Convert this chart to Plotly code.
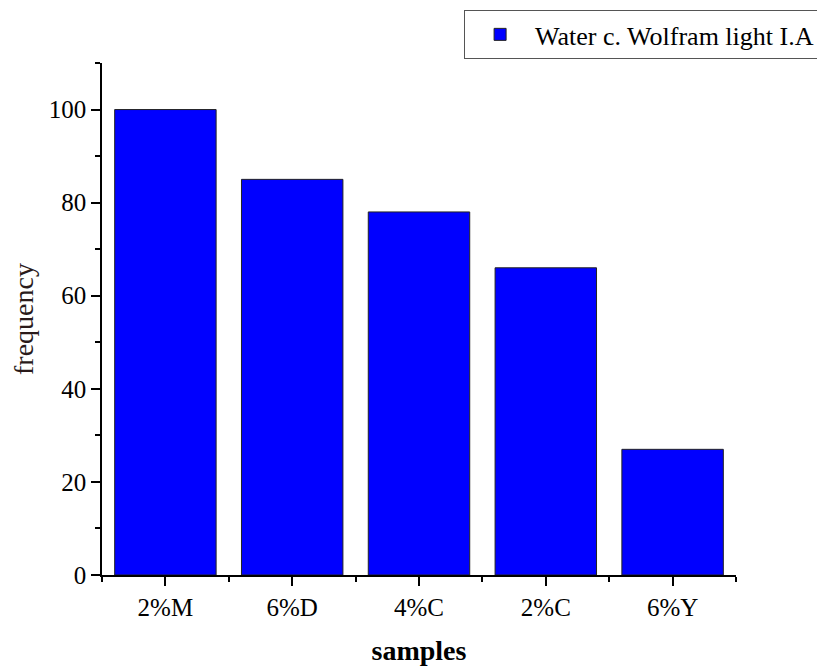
import plotly.graph_objs as go

samples = ['2%M', '6%D', '4%C', '2%C', '6%Y']
frequency = [100, 85, 78, 66, 27]
series_name = 'Water c. Wolfram light I.A'

serif = 'Liberation Serif, Times New Roman, serif'

fig = go.Figure()
fig.add_trace(go.Bar(x=list(range(len(samples))),
                     y=frequency,
                     name=series_name,
                     showlegend=True,
                     marker_color='#0000ff',
                     marker_line_color='#222222',
                     marker_line_width=1))

# the page body adds an 8px offset, so the figure is 8px smaller and margins shifted
fig.update_layout(width=817, height=658,
                  margin=dict(l=94, r=89, t=55, b=91, autoexpand=False),
                  paper_bgcolor='white',
                  plot_bgcolor='white',
                  bargap=0.2,
                  font=dict(family=serif, size=25, color='black'),
                  legend=dict(xref='container', yref='container',
                              x=0.994, y=0.997, xanchor='right', yanchor='top',
                              bordercolor='#555555', borderwidth=1,
                              font=dict(size=26), itemwidth=60,
                              bgcolor='white'))

fig.update_xaxes(range=[-0.5, 4.5],
                 tickmode='array',
                 tickvals=list(range(len(samples))),
                 ticktext=samples,
                 ticks='outside', ticklen=9, tickwidth=1.5, tickcolor='black',
                 minor=dict(tickmode='linear', tick0=0.5, dtick=1, ticks='outside',
                            ticklen=5, tickwidth=1.5, tickcolor='black'),
                 showline=True, linecolor='black', linewidth=1.5,
                 showgrid=False, zeroline=False,
                 title=dict(text='<b>samples</b>', font=dict(size=28), standoff=22))

fig.update_yaxes(range=[0, 110],
                 tickmode='linear', tick0=0, dtick=20,
                 ticks='outside', ticklen=9, tickwidth=1.5, tickcolor='black',
                 minor=dict(tickmode='linear', tick0=0, dtick=10, ticks='outside',
                            ticklen=5, tickwidth=1.5, tickcolor='black'),
                 showline=True, linecolor='black', linewidth=1.5,
                 showgrid=False, zeroline=False,
                 title=dict(text='frequency', font=dict(size=28, color='#2a1a1a'), standoff=12))

fig.write_html("out.html")
